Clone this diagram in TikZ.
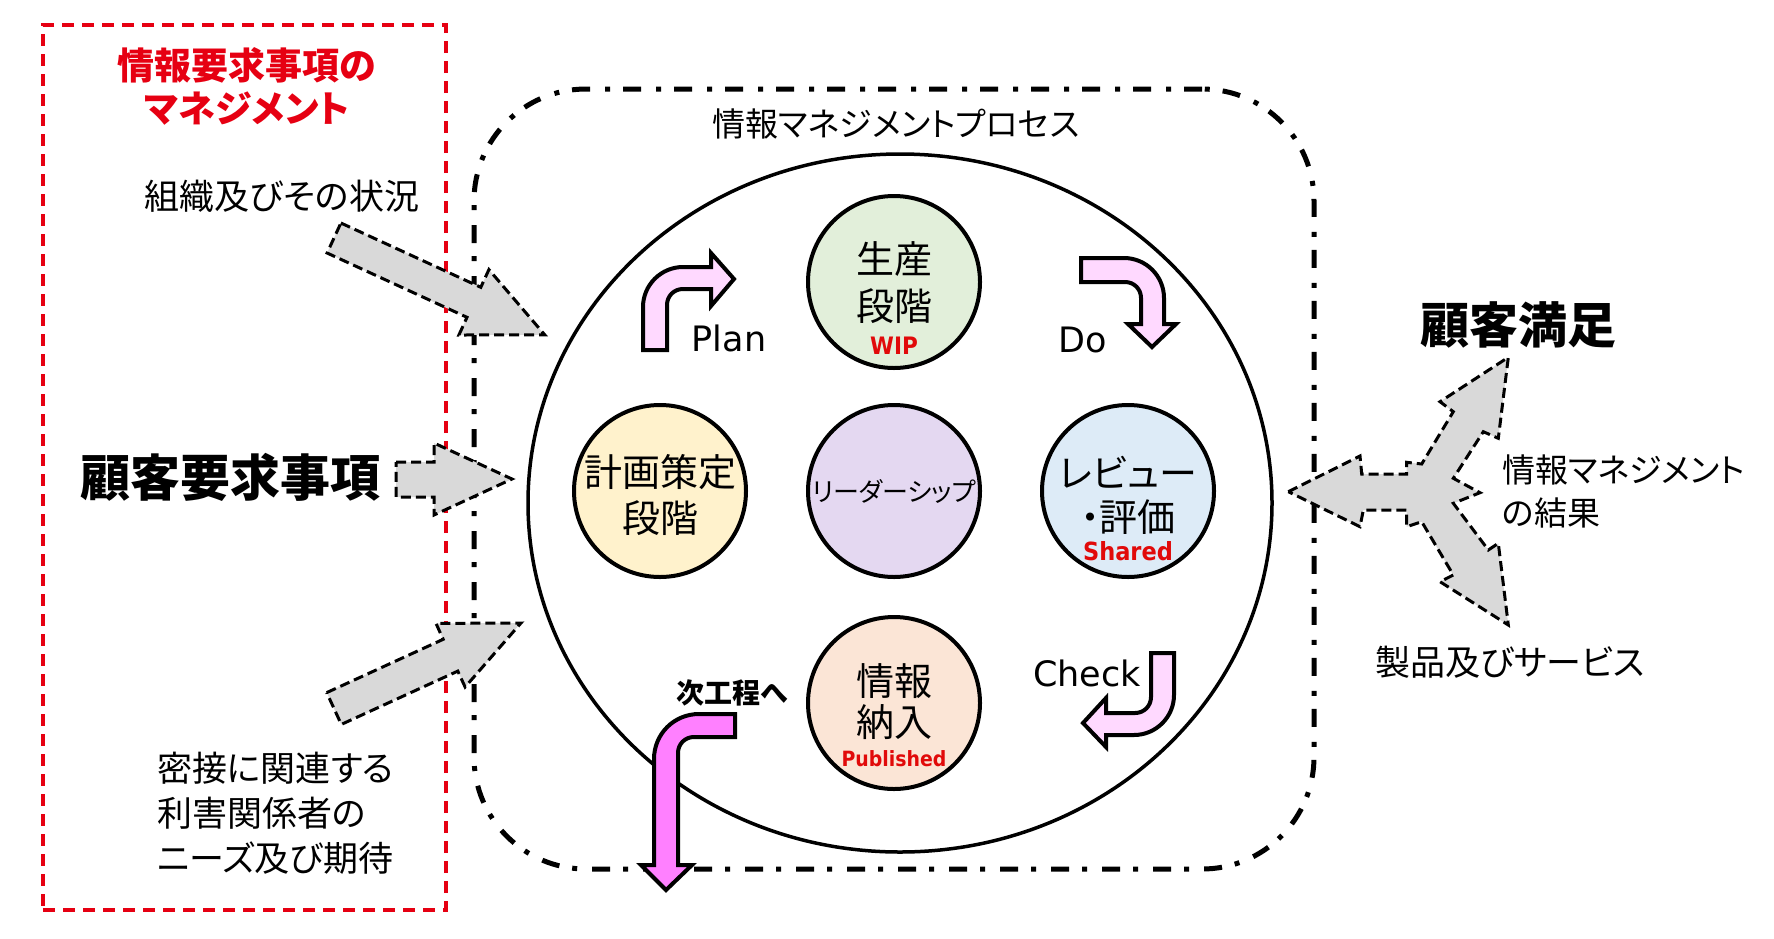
\documentclass[tikz,border=0pt]{standalone}
\usepackage{fontspec}
\setmainfont{Noto Sans CJK JP}[RawFeature=+palt]
\newfontfamily\lat{DejaVu Sans}
\newfontfamily\latc{DejaVu Sans Condensed}
\usetikzlibrary{shapes.geometric}
\definecolor{redline}{RGB}{230,0,18}
\definecolor{labred}{RGB}{225,10,10}
\definecolor{arrowgray}{RGB}{217,217,217}
\definecolor{pinklight}{RGB}{255,217,255}
\definecolor{magentaA}{RGB}{255,128,255}
\definecolor{cgreen}{RGB}{226,239,218}
\definecolor{cyellow}{RGB}{255,242,204}
\definecolor{cpurple}{RGB}{228,216,241}
\definecolor{cblue}{RGB}{221,235,247}
\definecolor{cpeach}{RGB}{251,229,214}
\newcommand\fsz[2]{\fontsize{#1}{#2}\selectfont}
\tikzset{
  txt/.style={inner sep=0pt, align=center},
  garrow/.style={draw=black, fill=arrowgray, line width=3pt, dash pattern=on 10pt off 5pt, line join=miter},
  parrow/.style={draw=black, fill=pinklight, line width=4pt, line join=miter},
  marrow/.style={draw=black, fill=magentaA, line width=4pt, line join=miter},
  stage/.style={circle, draw=black, line width=4pt, minimum size=172pt, inner sep=0pt},
}
\begin{document}
\begin{tikzpicture}[x=1pt,y=-1pt]
\useasboundingbox (0,0) rectangle (1774,938);
% frames
\node[draw=redline, line width=4pt, dash pattern=on 12pt off 8pt, minimum width=403pt, minimum height=885pt, inner sep=0pt] (redbox) at (244.5,467.5) {};
\node[draw=black, line width=5pt, dash pattern=on 18pt off 13pt on 5pt off 15pt, rounded corners=112pt, minimum width=840pt, minimum height=780pt, inner sep=0pt] (procbox) at (894,479) {};
\node[ellipse, draw=black, line width=3.5pt, minimum width=744pt, minimum height=698pt, inner sep=0pt] (proc) at (900,503) {};
% stage circles
\node[stage, fill=cgreen] (prod) at (894,282) {};
\node[stage, fill=cpurple] (lead) at (894,491) {};
\node[stage, fill=cyellow] (plan) at (660,491) {};
\node[stage, fill=cblue] (rev) at (1128,491) {};
\node[stage, fill=cpeach] (deliv) at (894,703) {};
% gray input arrows
\draw[garrow] (340.9,223.0) -- (480.8,287.3) -- (488.9,269.6) -- (544.8,334.9) -- (458.9,335.0) -- (467.0,317.3) -- (327.1,253.0) -- cycle;
\draw[garrow] (396,462) -- (434,462) -- (434,443) -- (512,479) -- (434,515) -- (434,497) -- (396,497) -- cycle;
\draw[garrow] (326.7,692.6) -- (443.2,639.3) -- (436.0,623.4) -- (521.0,623.0) -- (465.1,687.0) -- (457.8,671.1) -- (341.3,724.4) -- cycle;
% three-way output arrow
\draw[garrow] (1288.3,491.7) -- (1360,456) -- (1361.7,474) -- (1406.7,474) -- (1406.7,462.3) -- (1421.7,464) -- (1453.3,411.7) -- (1440,401.7) -- (1508.3,357.3) -- (1498.3,438.3) -- (1483.3,431.7) -- (1453.3,478.3) -- (1480,492.7) -- (1453.3,503.3) -- (1488.3,550) -- (1498.3,543.3) -- (1508.3,625) -- (1440,581.7) -- (1453.3,575) -- (1421.7,521.7) -- (1406.7,526.7) -- (1406.7,510) -- (1363.3,510) -- (1360,526.7) -- cycle;
% PDCA arrows
\draw[parrow] (643,350) -- (643,307) .. controls (643,285) and (661,267) .. (683,267) -- (711,267) -- (711,253) -- (734,279) -- (711,306) -- (711,289) -- (683,289) .. controls (674,289) and (667,296) .. (667,305) -- (667,350) -- cycle;
\draw[parrow] (1081,258) -- (1124,258) .. controls (1146,258) and (1164,276) .. (1164,298) -- (1164,324) -- (1176,324) -- (1152,347) -- (1128,324) -- (1141,324) -- (1141,298) .. controls (1141,289) and (1134,282) .. (1125,282) -- (1081,282) -- cycle;
\draw[parrow] (1151,653) -- (1174,653) -- (1174,695) .. controls (1174,717) and (1156,735) .. (1134,735) -- (1106,735) -- (1106,747) -- (1083,723) -- (1106,698) -- (1106,713) -- (1135,713) .. controls (1144,713) and (1151,706) .. (1151,697) -- cycle;
\draw[marrow] (735,714) -- (699,714) .. controls (674,714) and (654,734) .. (654,759) -- (654,865) -- (641,865) -- (666,890) -- (692,865) -- (678,865) -- (678,753) .. controls (678,744) and (685,737) .. (694,737) -- (735,737) -- cycle;
% texts left
\node[txt, text=redline, font=\fsz{37}{43}\bfseries] (ttl) at (247,86) {情報要求事項の\\マネジメント};
\node[txt, font=\fsz{35}{40}] (org) at (282,196) {組織及びその状況};
\node[txt, font=\fsz{50}{56}\bfseries] (creq) at (230,477) {顧客要求事項};
\node[txt, align=left, anchor=west, font=\fsz{35}{45}] (stake) at (157,813) {密接に関連する\\利害関係者の\\ニーズ及び期待};
% texts process
\node[txt, font=\fsz{33}{40}] (ptitle) at (896,124) {情報マネジメントプロセス};
\node[txt, font=\fsz{38}{47}] (prodt) at (894,283) {生産\\段階};
\node[txt, text=labred, font=\latc\bfseries\fsz{24}{28}] (wip) at (894,346) {WIP};
\node[txt, font=\fsz{38}{46}] (plant) at (660,495) {計画策定\\段階};
\node[txt, font=\fsz{26}{30}] (leadt) at (894,491) {リーダーシップ};
\node[txt, font=\fsz{38}{44}] (revt) at (1128,495) {レビュー\\・評価};
\node[txt, text=labred, font=\latc\bfseries\fsz{25}{28}] (shared) at (1128,551) {Shared};
\node[txt, font=\fsz{38}{41}] (delivt) at (894,702) {情報\\納入};
\node[txt, text=labred, font=\latc\bfseries\fsz{21}{24}] (pub) at (894,759) {Published};
\node[txt, font=\lat\fsz{35}{40}] (plantxt) at (729,338) {Plan};
\node[txt, font=\lat\fsz{35}{40}] (dotxt) at (1083,340) {Do};
\node[txt, font=\lat\fsz{35}{40}] (checktxt) at (1087,673) {Check};
\node[txt, font=\fsz{28}{32}\bfseries] (next) at (732,693) {次工程へ};
% texts right
\node[txt, font=\fsz{49}{55}\bfseries] (csat) at (1518,325) {顧客満足};
\node[txt, align=left, anchor=west, font=\fsz{33}{43}] (result) at (1502,491) {情報マネジメント\\の結果};
\node[txt, font=\fsz{35}{40}] (prods) at (1510,662) {製品及びサービス};
\end{tikzpicture}
\end{document}
